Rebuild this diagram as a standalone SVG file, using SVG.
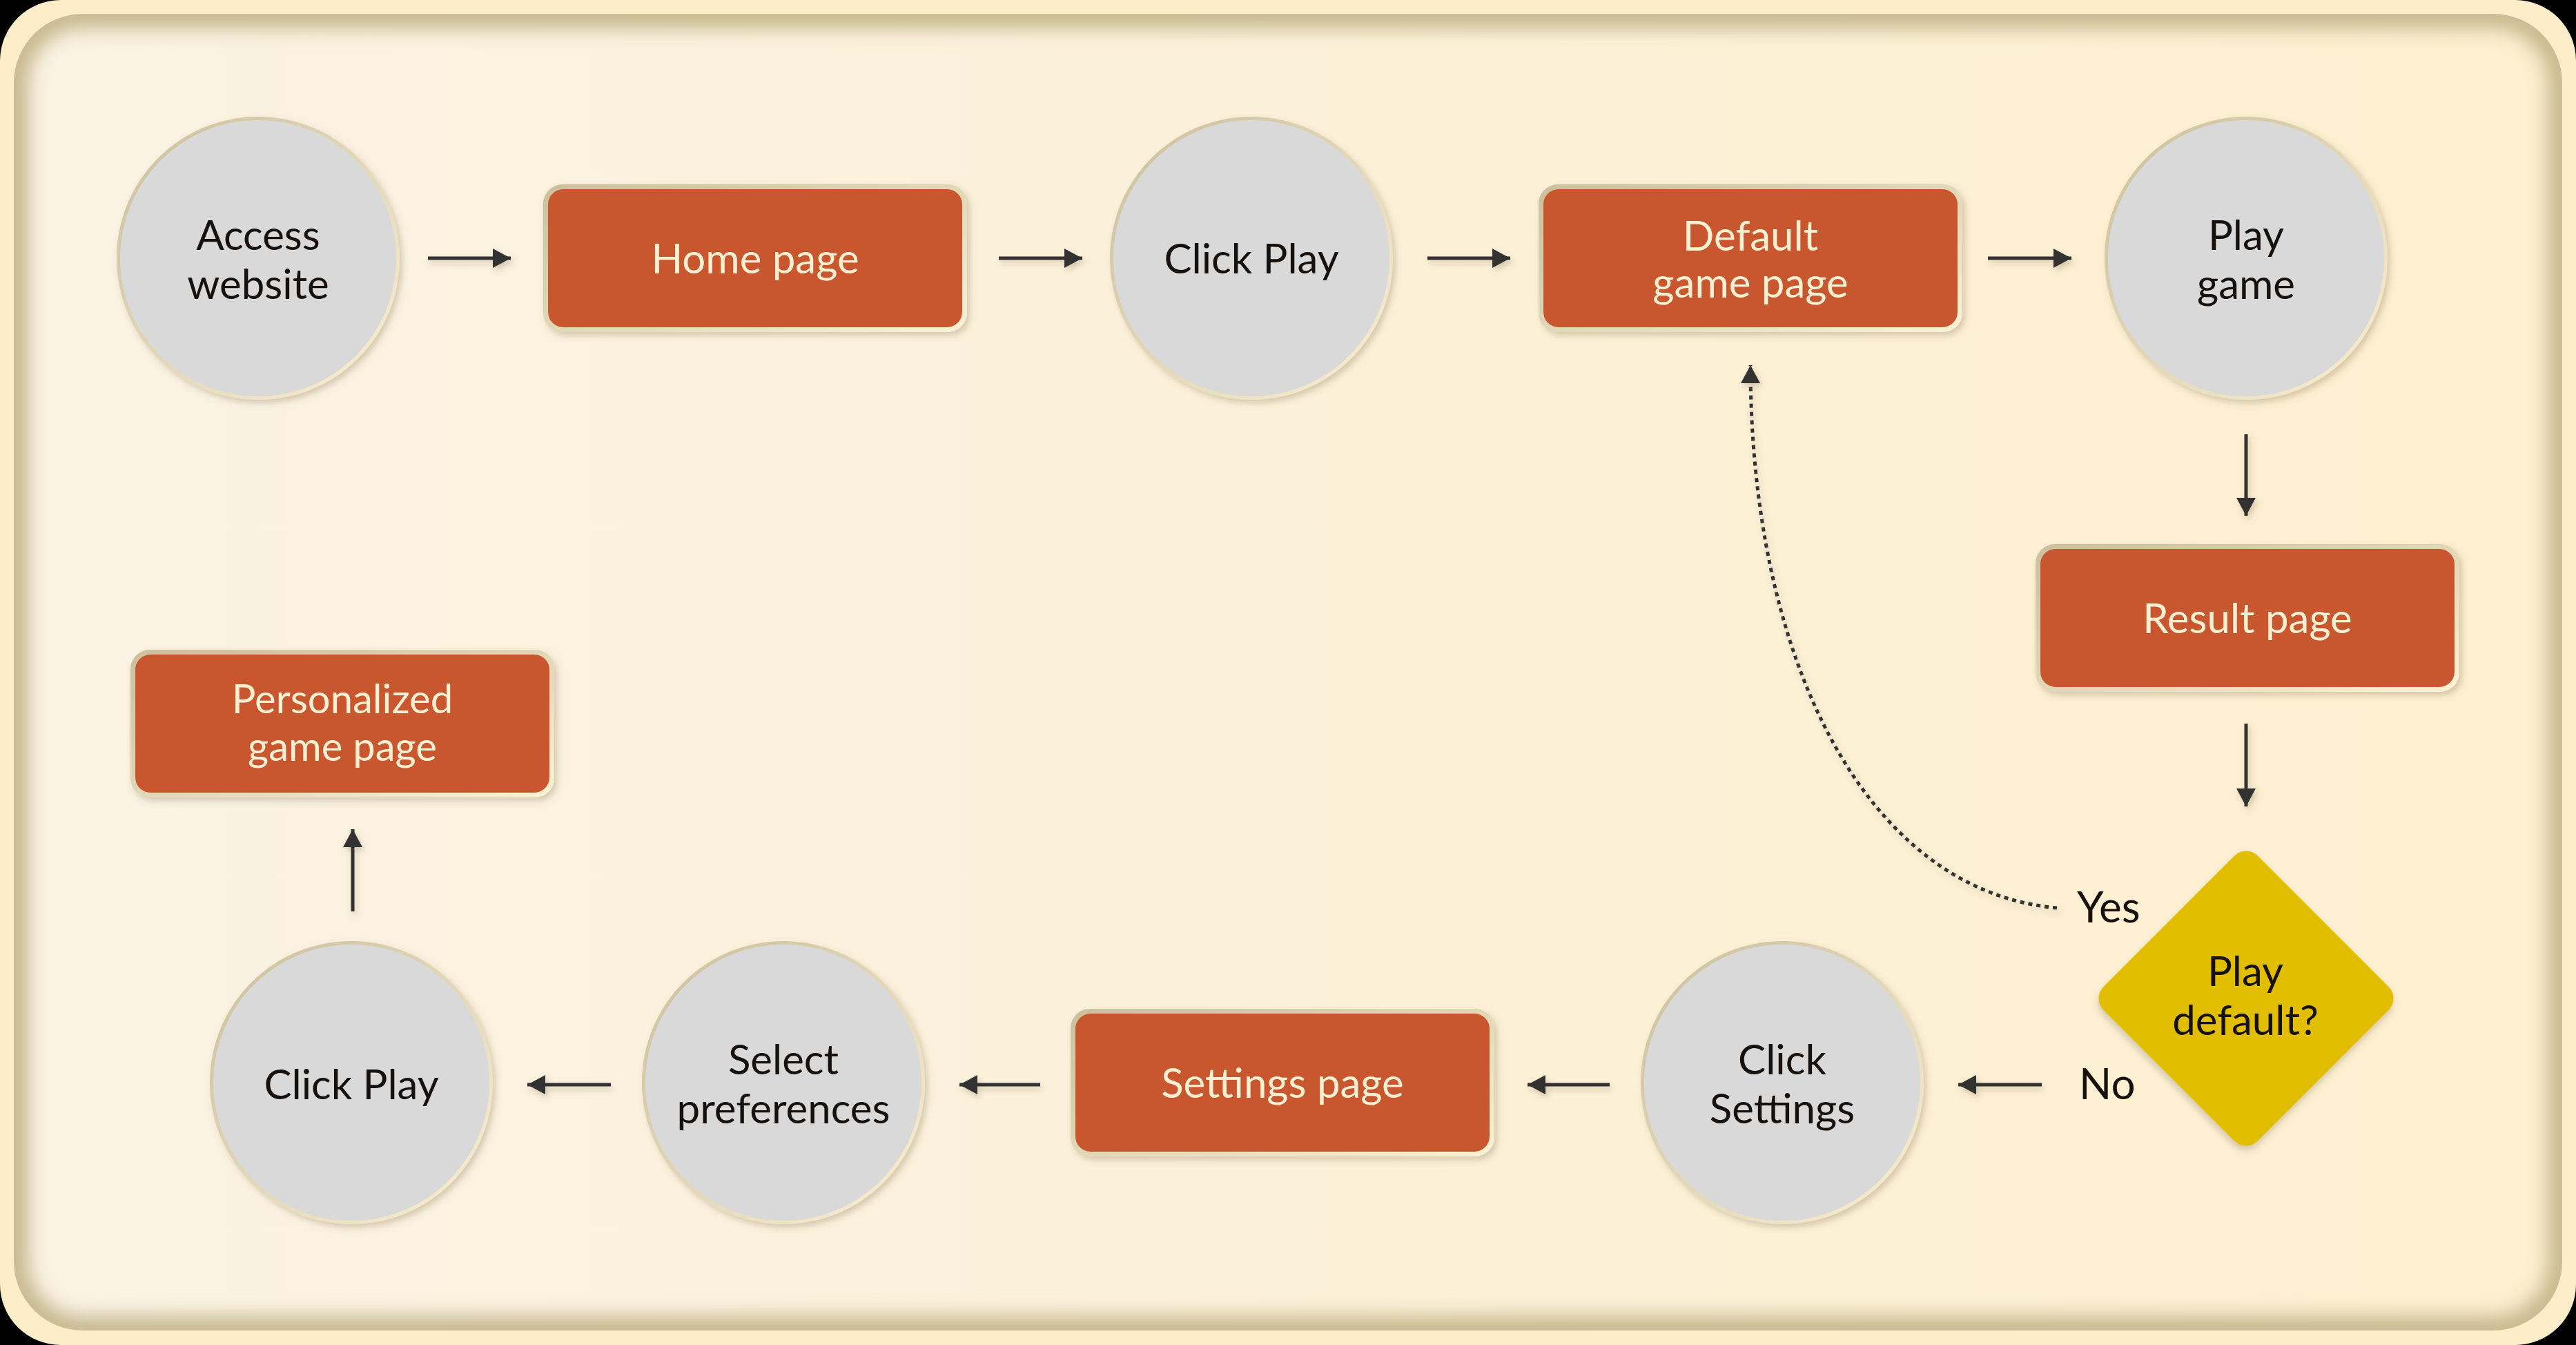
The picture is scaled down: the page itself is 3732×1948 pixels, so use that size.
<svg xmlns="http://www.w3.org/2000/svg" width="3732" height="1948" viewBox="0 0 3732 1948">
<style>
.ct{font-family:Lato,"Noto Sans","Liberation Sans",sans-serif;font-size:60px;fill:#16110c;text-anchor:middle}
.rt{font-family:Lato,"Noto Sans","Liberation Sans",sans-serif;font-size:60px;fill:#fdf0d2;text-anchor:middle}
.lb{font-family:Lato,"Noto Sans","Liberation Sans",sans-serif;font-size:62px;fill:#16110c}
.cn{fill:none;stroke:#333130;stroke-width:5}
.dot{fill:none;stroke:#333130;stroke-width:5;stroke-dasharray:6 6}
.orange{fill:#c8562f}
.gray{fill:#d9d9d9}
</style>
<defs>
<linearGradient id="panelGrad" x1="0" y1="0" x2="1" y2="0">
<stop offset="0" stop-color="#faf2e3"/>
<stop offset="1" stop-color="#fdefcf"/>
</linearGradient>
<linearGradient id="ringGrad" x1="0" y1="0" x2="1" y2="1">
<stop offset="0" stop-color="#cbbf9c"/>
<stop offset="0.6" stop-color="#e6dcbc"/>
<stop offset="1" stop-color="#fcf1d4"/>
</linearGradient>
<filter id="shadow" x="-20%" y="-20%" width="140%" height="140%">
<feDropShadow dx="4" dy="5" stdDeviation="5" flood-color="#7d6c45" flood-opacity="0.3"/>
</filter>
<filter id="lshadow" x="-20%" y="-50%" width="140%" height="200%">
<feDropShadow dx="3" dy="5" stdDeviation="4" flood-color="#7d6c45" flood-opacity="0.3"/>
</filter>
<filter id="blur" x="-5%" y="-5%" width="110%" height="110%">
<feGaussianBlur stdDeviation="14"/>
</filter>
<clipPath id="panelClip">
<rect x="20" y="20" width="3692" height="1907" rx="100"/>
</clipPath>
<marker id="ah" markerUnits="userSpaceOnUse" markerWidth="28" markerHeight="28" refX="26" refY="14" orient="auto">
<path d="M0,0 L26,14 L0,28 z" fill="#333130"/>
</marker>
</defs>
<rect x="0" y="0" width="3732" height="1948" fill="#000"/>
<rect x="0" y="0" width="3732" height="1948" rx="88" fill="#fdedc8"/>
<rect x="20" y="20" width="3692" height="1907" rx="100" fill="url(#panelGrad)"/>
<g clip-path="url(#panelClip)">
<rect x="20" y="20" width="3692" height="1907" rx="100" fill="none" stroke="#c4b68b" stroke-width="40" filter="url(#blur)"/>
</g>

<g id="connectors" filter="url(#lshadow)">
<path class="cn" d="M620 374 H740" marker-end="url(#ah)"/>
<path class="cn" d="M1447 374 H1568" marker-end="url(#ah)"/>
<path class="cn" d="M2068 374 H2188" marker-end="url(#ah)"/>
<path class="cn" d="M2880 374 H3001" marker-end="url(#ah)"/>
<path class="cn" d="M3254 629 V747" marker-end="url(#ah)"/>
<path class="cn" d="M3254 1048 V1168" marker-end="url(#ah)"/>
<path class="cn" d="M2958 1571 H2837" marker-end="url(#ah)"/>
<path class="cn" d="M2332 1571 H2213" marker-end="url(#ah)"/>
<path class="cn" d="M1507 1571 H1390" marker-end="url(#ah)"/>
<path class="cn" d="M885 1571 H764" marker-end="url(#ah)"/>
<path class="cn" d="M511 1320 V1201" marker-end="url(#ah)"/>
<path class="dot" d="M2980 1315 C2700 1290 2536 950 2536 529" marker-end="url(#ah)"/>
</g>

<g id="n-access">
<circle cx="374" cy="374" r="205" fill="url(#ringGrad)" filter="url(#shadow)"/>
<circle class="gray" cx="374" cy="374" r="200"/>
<text class="ct" x="374" y="362">Access</text>
<text class="ct" x="374" y="433">website</text>
</g>
<g id="n-home">
<rect x="787" y="267" width="614" height="214" rx="28" fill="url(#ringGrad)" filter="url(#shadow)"/>
<rect class="orange" x="794" y="274" width="600" height="200" rx="22"/>
<text class="rt" x="1094" y="396">Home page</text>
</g>
<g id="n-clickplay1">
<circle cx="1813" cy="374" r="205" fill="url(#ringGrad)" filter="url(#shadow)"/>
<circle class="gray" cx="1813" cy="374" r="200"/>
<text class="ct" x="1813" y="396">Click Play</text>
</g>
<g id="n-default">
<rect x="2229" y="267" width="614" height="214" rx="28" fill="url(#ringGrad)" filter="url(#shadow)"/>
<rect class="orange" x="2236" y="274" width="600" height="200" rx="22"/>
<text class="rt" x="2536" y="363">Default</text>
<text class="rt" x="2536" y="431">game page</text>
</g>
<g id="n-playgame">
<circle cx="3254" cy="374" r="205" fill="url(#ringGrad)" filter="url(#shadow)"/>
<circle class="gray" cx="3254" cy="374" r="200"/>
<text class="ct" x="3254" y="362">Play</text>
<text class="ct" x="3254" y="433">game</text>
</g>
<g id="n-result">
<rect x="2949" y="788" width="614" height="214" rx="28" fill="url(#ringGrad)" filter="url(#shadow)"/>
<rect class="orange" x="2956" y="795" width="600" height="200" rx="22"/>
<text class="rt" x="3256" y="917">Result page</text>
</g>
<g id="n-decision">
<rect x="3096" y="1288" width="316" height="316" rx="24" fill="#e1be00" filter="url(#shadow)" transform="rotate(45 3254 1446)"/>
<text class="ct" x="3253" y="1428">Play</text>
<text class="ct" x="3253" y="1499">default?</text>
</g>
<g id="labels">
<text class="lb" x="3009" y="1336">Yes</text>
<text class="lb" x="3012" y="1592">No</text>
</g>
<g id="n-clicksettings">
<circle cx="2582" cy="1568" r="205" fill="url(#ringGrad)" filter="url(#shadow)"/>
<circle class="gray" cx="2582" cy="1568" r="200"/>
<text class="ct" x="2582" y="1556">Click</text>
<text class="ct" x="2582" y="1627">Settings</text>
</g>
<g id="n-settings">
<rect x="1551" y="1461" width="614" height="214" rx="28" fill="url(#ringGrad)" filter="url(#shadow)"/>
<rect class="orange" x="1558" y="1468" width="600" height="200" rx="22"/>
<text class="rt" x="1858" y="1590">Settings page</text>
</g>
<g id="n-select">
<circle cx="1135" cy="1568" r="205" fill="url(#ringGrad)" filter="url(#shadow)"/>
<circle class="gray" cx="1135" cy="1568" r="200"/>
<text class="ct" x="1135" y="1556">Select</text>
<text class="ct" x="1135" y="1627">preferences</text>
</g>
<g id="n-clickplay2">
<circle cx="509" cy="1568" r="205" fill="url(#ringGrad)" filter="url(#shadow)"/>
<circle class="gray" cx="509" cy="1568" r="200"/>
<text class="ct" x="509" y="1592">Click Play</text>
</g>
<g id="n-personalized">
<rect x="189" y="941" width="614" height="214" rx="28" fill="url(#ringGrad)" filter="url(#shadow)"/>
<rect class="orange" x="196" y="948" width="600" height="200" rx="22"/>
<text class="rt" x="496" y="1033" style="font-size:58px">Personalized</text>
<text class="rt" x="496" y="1102" style="font-size:58px">game page</text>
</g>
</svg>
